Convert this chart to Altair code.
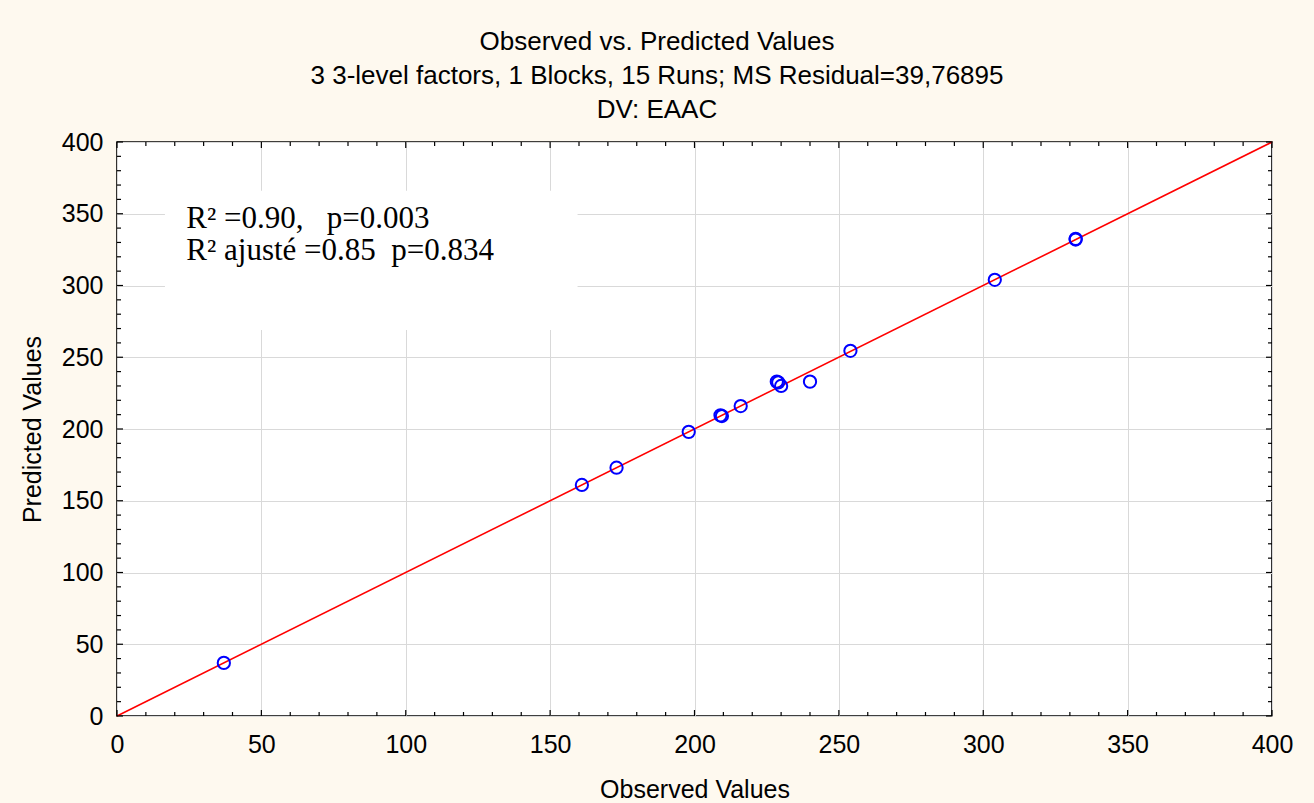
import altair as alt
import pandas as pd

# Observed vs predicted values
observed = [37, 161, 173, 198, 209, 209.5, 216, 228.5, 229, 230, 240, 254, 304, 332, 332]
predicted = [37, 161, 173, 198, 209.5, 209, 216, 233, 232.5, 230, 233, 254.5, 304, 332, 332.5]

# reference line y = x
line_x = [0, 400]
line_y = [0, 400]

tick_major = [0, 50, 100, 150, 200, 250, 300, 350, 400]
tick_minor = [v for v in range(0, 401, 10) if v % 50 != 0]

title_lines = [
    "Observed vs. Predicted Values",
    "3 3-level factors, 1 Blocks, 15 Runs; MS Residual=39,76895",
    "DV: EAAC",
]
NB = "\u00a0"
annot_lines = [f"R² =0.90,{NB*3}p=0.003", f"R² ajusté =0.85{NB*2}p=0.834"]

# annotation box (data units) and text anchor
box = {"x1": 16.6, "x2": 159.5, "y1": 269, "y2": 366}
annot_pos = {"x": 24, "y": 340}

W, H = 1155, 574
FONT = "Liberation Sans"

pts = pd.DataFrame({"obs": observed, "pred": predicted})
ln = pd.DataFrame({"obs": line_x, "pred": line_y})

xs = alt.Scale(domain=[0, 400], nice=False, zero=False)
ys = alt.Scale(domain=[0, 400], nice=False, zero=False)

base_x = alt.X(
    "obs:Q", scale=xs, title="Observed Values",
    axis=alt.Axis(values=tick_major, ticks=False, domain=False, grid=True,
                  gridColor="#d9d9d9", gridWidth=1, labelFontSize=25,
                  labelFont=FONT, labelColor="black", labelPadding=16,
                  titleFont=FONT, titleFontSize=25, titleFontWeight="normal",
                  titleColor="black", titlePadding=20, labelFlush=False),
)
base_y = alt.Y(
    "pred:Q", scale=ys, title="Predicted Values",
    axis=alt.Axis(values=tick_major, ticks=False, domain=False, grid=True,
                  gridColor="#d9d9d9", gridWidth=1, labelFontSize=25,
                  labelFont=FONT, labelColor="black", labelPadding=14,
                  titleFont=FONT, titleFontSize=25, titleFontWeight="normal",
                  titleColor="black", titlePadding=16, labelFlush=False),
)

axes_layer = alt.Chart(pts).mark_point(opacity=0).encode(x=base_x, y=base_y)

box_df = pd.DataFrame([box])
box_layer = alt.Chart(box_df).mark_rect(color="white").encode(
    x=alt.X("x1:Q", scale=xs), x2="x2:Q",
    y=alt.Y("y1:Q", scale=ys), y2="y2:Q",
)

line_layer = alt.Chart(ln).mark_line(color="#ff0000", strokeWidth=1.6).encode(
    x=alt.X("obs:Q", scale=xs), y=alt.Y("pred:Q", scale=ys)
)

pt_layer = alt.Chart(pts).mark_point(
    shape="circle", filled=False, color="#0000ff", strokeWidth=2, size=150, opacity=1
).encode(x=alt.X("obs:Q", scale=xs), y=alt.Y("pred:Q", scale=ys))

annot_df = pd.DataFrame([{"x": annot_pos["x"], "y": annot_pos["y"], "t": annot_lines}])
annot_layer = alt.Chart(annot_df).mark_text(
    align="left", baseline="alphabetic", font="Liberation Serif", fontSize=31,
    lineHeight=32, color="black"
).encode(x=alt.X("x:Q", scale=xs), y=alt.Y("y:Q", scale=ys), text="t")

maj = pd.DataFrame({"v": tick_major})
mnr = pd.DataFrame({"v": tick_minor})


def tick_layers(df, L):
    return [
        alt.Chart(df).mark_rule(color="black", strokeWidth=1.2).encode(
            x=alt.X("v:Q", scale=xs), y=alt.value(H), y2=alt.value(H - L)),
        alt.Chart(df).mark_rule(color="black", strokeWidth=1.2).encode(
            x=alt.X("v:Q", scale=xs), y=alt.value(0), y2=alt.value(L)),
        alt.Chart(df).mark_rule(color="black", strokeWidth=1.2).encode(
            y=alt.Y("v:Q", scale=ys), x=alt.value(0), x2=alt.value(L)),
        alt.Chart(df).mark_rule(color="black", strokeWidth=1.2).encode(
            y=alt.Y("v:Q", scale=ys), x=alt.value(W), x2=alt.value(W - L)),
    ]


layers = [axes_layer, box_layer, line_layer, pt_layer, annot_layer] + tick_layers(maj, 6) + tick_layers(mnr, 4)

chart = alt.layer(*layers).properties(
    width=W, height=H,
    autosize=alt.AutoSizeParams(type="none"),
    padding={"left": 117, "top": 142, "right": 42, "bottom": 87},
    background="#fef9ef",
    title=alt.Title(
        text=title_lines, fontSize=26, font=FONT, fontWeight="normal",
        color="black", lineHeight=34, anchor="middle", dx=-37.5, offset=7,
    ),
).configure_view(fill="white", stroke="black", strokeWidth=1.6)

chart.save("out.html", embed_options={"renderer": "svg", "actions": False})
